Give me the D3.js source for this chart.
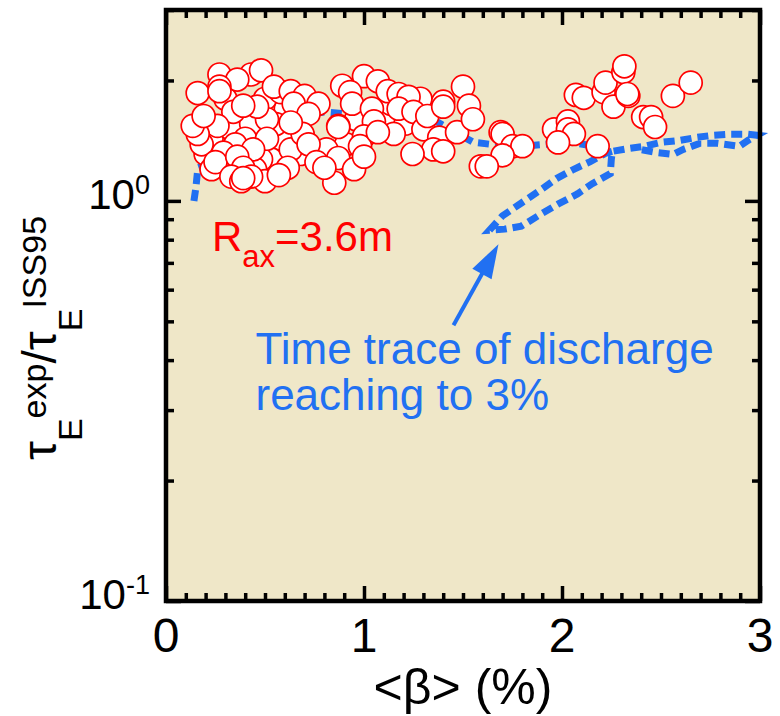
<!DOCTYPE html>
<html>
<head>
<meta charset="utf-8">
<script src="https://cdn.jsdelivr.net/npm/d3@7/dist/d3.min.js"></script>
<style>
body { margin: 0; background: #fff; }
text { font-family: Arial, "Liberation Sans", sans-serif; }
</style>
</head>
<body>
<svg id="chart" width="780" height="716"></svg>
<script>
// tick values / labels
var xTicks = [0, 1, 2, 3];
var yTicks = [0.1, 1];
var yTickLabels = [["10", "-1"], ["10", "0"]];

// experimental points, [<beta> (%), tauE_exp / tauE_ISS95]
var shotsBehind = [
  [0.23,1.43],[0.33,1.51],[0.43,1.56],[0.58,1.43],[0.53,1.27],[0.68,1.31],[0.30,1.23],
  [0.20,1.31],[0.40,1.43],[0.605,1.70],[0.48,1.27],[0.18,1.385],[0.35,1.385],[0.555,1.556],
  [0.30,1.80],[0.50,1.80],[0.68,1.60],[0.45,1.20],[0.23,1.20],[0.63,1.345],
  [1.11,1.60],[1.21,1.56],[0.96,1.60],[1.135,1.75],[1.285,1.80],[0.91,1.385],[0.81,1.345]
];
var shots = [
  [0.27,2.07],[0.43,2.07],[0.48,2.12],[0.36,2.01],[0.27,1.93],[0.16,1.86],[0.58,1.87],
  [0.545,1.93],[0.63,1.88],[0.70,1.83],[0.77,1.75],[0.645,1.75],[0.72,1.65],[0.51,1.60],
  [0.34,1.67],[0.26,1.54],[0.16,1.47],[0.135,1.54],[0.19,1.63],[0.51,1.43],[0.69,1.47],
  [0.72,1.385],[0.63,1.57],[0.44,1.345],[0.29,1.32],[0.25,1.25],[0.36,1.29],[0.39,1.21],
  [0.50,1.12],[0.615,1.21],[0.57,1.16],[0.43,1.15],[0.33,1.15],[0.38,1.12],[0.76,1.25],
  [0.46,1.72],[0.39,1.73],[0.27,1.88],[0.39,1.14],
  [0.87,1.28],[0.95,1.20],[0.85,1.11],[0.80,1.21],[0.89,1.94],[1.00,2.05],[1.07,1.99],
  [0.93,1.87],[0.87,1.54],[0.94,1.75],[1.04,1.70],[1.05,1.58],[1.00,1.45],[0.98,1.37],
  [1.00,1.29],[1.12,1.88],[1.175,1.85],[1.225,1.82],[1.175,1.70],[1.25,1.67],[1.15,1.47],
  [1.07,1.485],[1.30,1.51],[1.32,1.63],[1.38,1.44],[1.35,1.345],[1.245,1.31],[1.40,1.77],
  [1.40,1.72],[1.50,1.93],[1.53,1.73],[1.47,1.485],[1.55,1.60],[1.59,1.22],[0.87,1.53],
  [1.40,1.33],
  [1.69,1.485],[1.70,1.47],[1.75,1.37],[1.80,1.37],[1.70,1.30],[1.62,1.22],[1.96,1.51],
  [2.03,1.58],[2.03,1.51],[2.06,1.47],[1.98,1.40],[2.18,1.37],[2.07,1.84],[2.11,1.81],
  [2.21,1.87],[2.22,1.975],[2.26,1.72],[2.31,2.10],[2.315,2.17],[2.335,1.83],[2.33,1.85],
  [2.41,1.62],[2.45,1.62],[2.47,1.53],[2.56,1.83],[2.65,1.975]
];

// time trace of the discharge reaching 3%
var trace = [
  [0.141,1.00],[0.151,1.08],[0.161,1.21],[0.192,1.225],[0.252,1.177],[0.378,1.254],
  [0.489,1.409],[0.595,1.556],[0.706,1.639],[0.797,1.668],[0.983,1.639],[1.185,1.611],
  [1.372,1.574],[1.478,1.468],[1.553,1.401],[1.639,1.385],[1.790,1.369],[1.916,1.385],
  [2.042,1.401],[2.168,1.369],[2.254,1.330],
  [2.219,1.315],[2.143,1.254],[2.057,1.198],[1.972,1.137],[1.886,1.060],[1.795,0.988],
  [1.699,0.917],[1.634,0.845],
  [1.710,0.850],[1.795,0.865],[1.886,0.922],[1.982,0.983],[2.078,1.041],[2.153,1.104],
  [2.244,1.170],[2.249,1.269],[2.254,1.330],
  [2.340,1.353],[2.416,1.369],[2.501,1.401],[2.597,1.417],[2.683,1.442],[2.763,1.459],
  [2.849,1.468],[2.935,1.468],[2.985,1.459],
  [2.940,1.417],[2.895,1.369],[2.784,1.393],[2.698,1.393],[2.612,1.345],[2.562,1.307],
  [2.476,1.322],[2.395,1.345]
];

var blue = "#2170f2";
var svg = d3.select("#chart");
var x = d3.scaleLinear().domain([0, 3]).range([166, 760]);
var y = d3.scaleLog().domain([0.1, 3]).range([601, 10]);

svg.append("rect")
  .attr("x", x(0)).attr("y", y(3))
  .attr("width", x(3) - x(0)).attr("height", y(0.1) - y(3))
  .attr("fill", "#efe7c8");

// inward ticks on all four sides
var xMinor = d3.range(1, 30).filter(function (d) { return d % 10; }).map(function (d) { return d / 10; });
var yMinor = [];
[0.1, 1].forEach(function (dec) {
  for (var k = 2; k <= 9; k++) { if (dec * k <= 3) yMinor.push(dec * k); }
});

function tickAxis(axis, tr, vals, size) {
  var g = svg.append("g").attr("transform", tr)
    .call(axis.tickValues(vals).tickSize(-size).tickFormat(""));
  g.select(".domain").remove();
  g.selectAll(".tick line").attr("stroke", "#000").attr("stroke-width", 3.5);
}
tickAxis(d3.axisBottom(x), "translate(0," + y(0.1) + ")", xMinor, 8);
tickAxis(d3.axisBottom(x), "translate(0," + y(0.1) + ")", xTicks, 15);
tickAxis(d3.axisTop(x), "translate(0," + y(3) + ")", xMinor, 8);
tickAxis(d3.axisTop(x), "translate(0," + y(3) + ")", xTicks, 15);
tickAxis(d3.axisLeft(y), "translate(" + x(0) + ",0)", yMinor, 8);
tickAxis(d3.axisLeft(y), "translate(" + x(0) + ",0)", yTicks, 15);
tickAxis(d3.axisRight(y), "translate(" + x(3) + ",0)", yMinor, 8);
tickAxis(d3.axisRight(y), "translate(" + x(3) + ",0)", yTicks, 15);

// dashed time trace (under the points)
var line = d3.line().x(function (d) { return x(d[0]); }).y(function (d) { return y(d[1]); });
svg.append("path").datum(trace)
  .attr("d", line)
  .attr("fill", "none")
  .attr("stroke", blue)
  .attr("stroke-width", 7)
  .attr("stroke-dasharray", "11,6");

// points
svg.append("g").selectAll("circle")
  .data(shotsBehind.concat(shots))
  .join("circle")
  .attr("cx", function (d) { return x(d[0]); })
  .attr("cy", function (d) { return y(d[1]); })
  .attr("r", 11.5)
  .attr("fill", "#fff")
  .attr("stroke", "#ff0000")
  .attr("stroke-width", 1.7);

// frame
svg.append("rect")
  .attr("x", x(0)).attr("y", y(3))
  .attr("width", x(3) - x(0)).attr("height", y(0.1) - y(3))
  .attr("fill", "none").attr("stroke", "#000").attr("stroke-width", 4.5);

// x tick labels
svg.append("g").selectAll("text")
  .data(xTicks)
  .join("text")
  .attr("x", function (d) { return x(d); })
  .attr("y", 652)
  .attr("text-anchor", "middle")
  .attr("font-size", 48)
  .text(function (d) { return d; });

// y tick labels with exponents
yTicks.forEach(function (v, i) {
  var t = svg.append("text")
    .attr("x", 150).attr("y", y(v) + 8)
    .attr("text-anchor", "end");
  t.append("tspan").attr("font-size", 42).text(yTickLabels[i][0]);
  t.append("tspan").attr("font-size", 27).attr("dy", -15).text(yTickLabels[i][1]);
});

// axis titles
svg.append("text")
  .attr("x", (x(0) + x(3)) / 2).attr("y", 704)
  .attr("text-anchor", "middle")
  .attr("font-size", 50)
  .text("<\u03b2> (%)");

var yt = svg.append("text")
  .attr("transform", "translate(56,338) rotate(-90)")
  .attr("text-anchor", "middle");
yt.append("tspan").attr("font-size", 48).text("\u03c4");
yt.append("tspan").attr("font-size", 34).attr("dy", 26).text("E");
yt.append("tspan").attr("font-size", 34).attr("dy", -36).text("exp");
yt.append("tspan").attr("font-size", 48).attr("dy", 10).text("/\u03c4");
yt.append("tspan").attr("font-size", 34).attr("dy", 26).text("E");
yt.append("tspan").attr("font-size", 34).attr("dy", -36).text("ISS95");

// annotations
var ra = svg.append("text")
  .attr("x", x(0.232)).attr("y", y(0.748))
  .attr("fill", "#ff0000");
ra.append("tspan").attr("font-size", 42).text("R");
ra.append("tspan").attr("font-size", 31).attr("dy", 16).text("ax");
ra.append("tspan").attr("font-size", 42).attr("dy", -16).text("=3.6m");

var tt = svg.append("text").attr("fill", blue).attr("font-size", 44);
tt.append("tspan").attr("x", x(0.452)).attr("y", y(0.392)).text("Time trace of discharge");
tt.append("tspan").attr("x", x(0.452)).attr("y", y(0.300)).text("reaching to 3%");

// arrow to the trace
var tail = [x(1.452), y(0.489)], tip = [x(1.679), y(0.779)];
var dx = tip[0] - tail[0], dy = tip[1] - tail[1], len = Math.sqrt(dx * dx + dy * dy);
var ux = dx / len, uy = dy / len, hl = 34, hw = 11;
var base = [tip[0] - ux * hl, tip[1] - uy * hl];
svg.append("line")
  .attr("x1", tail[0]).attr("y1", tail[1])
  .attr("x2", base[0] + ux * 4).attr("y2", base[1] + uy * 4)
  .attr("stroke", blue).attr("stroke-width", 4);
svg.append("path")
  .attr("d", "M" + tip + "L" + [base[0] - uy * hw, base[1] + ux * hw] + "L" + [base[0] + uy * hw, base[1] - ux * hw] + "Z")
  .attr("fill", blue);
</script>
</body>
</html>
